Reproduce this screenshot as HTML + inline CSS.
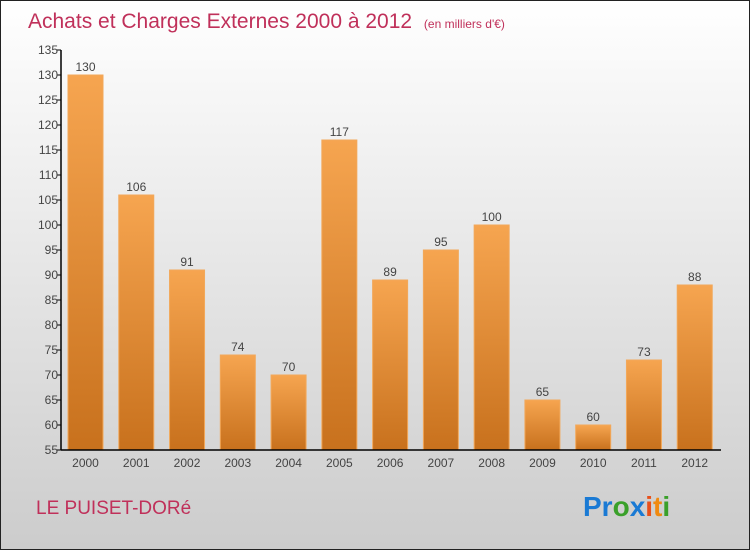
<!DOCTYPE html>
<html><head><meta charset="utf-8"><style>
body{margin:0;}
svg{display:block;font-family:"Liberation Sans",sans-serif;}
</style></head><body>
<svg width="750" height="550" viewBox="0 0 750 550">
<defs>
<linearGradient id="bg" x1="0" y1="0" x2="0" y2="1"><stop offset="0" stop-color="#ffffff"/><stop offset="1" stop-color="#cccccc"/></linearGradient>
<linearGradient id="bar" x1="0" y1="0" x2="0" y2="1"><stop offset="0" stop-color="#f6a550"/><stop offset="1" stop-color="#c8711d"/></linearGradient>
</defs>
<rect x="0.5" y="0.5" width="749" height="549" fill="url(#bg)" stroke="#222"/>
<text x="28" y="28" font-size="21" fill="#c0305a">Achats et Charges Externes 2000 à 2012 <tspan font-size="12" dx="6">(en milliers d'€)</tspan></text>
<g id="plot"></g>
<text x="36" y="514" font-size="19" fill="#c0305a">LE PUISET-DORé</text>
<g font-size="28" font-weight="bold" font-family="Liberation Sans, sans-serif">
<text x="583" y="516"><tspan fill="#1a7ad4">Pr</tspan><tspan fill="#3aa02a">o</tspan><tspan fill="#1a7ad4">x</tspan><tspan fill="#e8501a">i</tspan><tspan fill="#f08a10">t</tspan><tspan fill="#3aa02a">i</tspan></text>
</g>
</svg>
<script>
const categories=["2000","2001","2002","2003","2004","2005","2006","2007","2008","2009","2010","2011","2012"];
const values=[130,106,91,74,70,117,89,95,100,65,60,73,88];
const yTicks=[55,60,65,70,75,80,85,90,95,100,105,110,115,120,125,130,135];
const NS="http://www.w3.org/2000/svg";
const g=document.getElementById('plot');
const x0=61,x1=721,yMin=55,yMax=135,yTop=50,yBot=450;
const band=(x1-x0)/categories.length;
const y=v=>yBot-(v-yMin)/(yMax-yMin)*(yBot-yTop);
const xb=i=>x0+i*band;
function mk(t,a){const e=document.createElementNS(NS,t);for(const k in a)e.setAttribute(k,a[k]);g.appendChild(e);return e;}
values.forEach((v,i)=>{
 const r=mk('rect',{x:xb(i)+7,y:y(v),width:35,height:yBot-y(v),fill:'url(#bar)',stroke:'#f2a85a','stroke-width':1});
 
 
 const t=mk('text',{x:xb(i)+24.5,y:y(v)-4,'text-anchor':'middle','font-size':12,fill:'#444'});
 t.textContent=v;
 
 
 const c=mk('text',{x:xb(i)+24.5,y:467,'text-anchor':'middle','font-size':12,fill:'#444'});
 c.textContent=categories[i];
 
 
});
yTicks.forEach(v=>{
 const l=mk('line',{x1:x0-4,x2:x0,y1:y(v),y2:y(v),stroke:'#000'});
 
 
 const t=mk('text',{x:x0-3,y:y(v)+4,'text-anchor':'end','font-size':12,fill:'#444'});
 t.textContent=v;
 
 
});
const ya=mk('line',{x1:x0,x2:x0,y1:yTop,y2:yBot,stroke:'#000','stroke-width':1.5});


const xa=mk('line',{x1:x0,x2:x1,y1:yBot,y2:yBot,stroke:'#000','stroke-width':1.5});


</script>
</body></html>
